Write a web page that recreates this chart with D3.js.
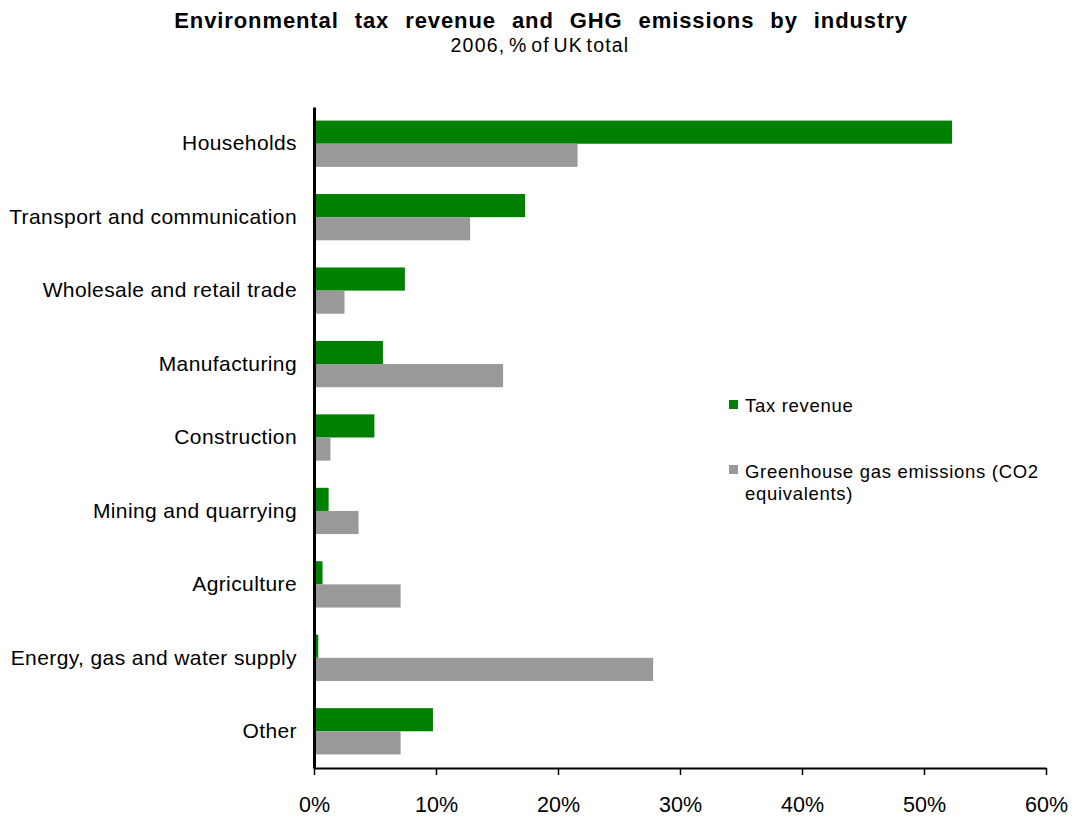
<!DOCTYPE html>
<html>
<head>
<meta charset="utf-8">
<script src="https://cdn.jsdelivr.net/npm/d3@7"></script>
<style>
  body { margin: 0; background: #fff; font-family: "Liberation Sans", Arial, sans-serif; }
</style>
</head>
<body>
<svg id="chart" width="1074" height="819"></svg>
<script>
// data
const categories = ["Households", "Transport and communication", "Wholesale and retail trade",
  "Manufacturing", "Construction", "Mining and quarrying ", "Agriculture",
  "Energy, gas and water supply", "Other"];
const seriesNames = ["Tax revenue", "Greenhouse gas emissions (CO2 equivalents)"];
const taxRevenue = [52.3, 17.3, 7.45, 5.65, 4.95, 1.2, 0.7, 0.35, 9.75];
const ghgEmissions = [21.6, 12.8, 2.5, 15.5, 1.35, 3.65, 7.1, 27.8, 7.1];
const xTicks = [0, 10, 20, 30, 40, 50, 60];
const colors = ["#008000", "#999999"];

const svg = d3.select("#chart");
const margin = { top: 107, right: 28, bottom: 51, left: 314 };
const width = 1074 - margin.left - margin.right;
const height = 819 - margin.top - margin.bottom;

const chart = svg.append("g")
  .attr("transform", `translate(${margin.left},${margin.top})`);

// scales
const x = d3.scaleLinear().domain([0, 60]).range([0, width]);
const y = d3.scaleBand().domain(categories).range([0, height]).paddingInner(0.37).paddingOuter(0.185);
const ySub = d3.scaleBand().domain([0, 1]).range([0, y.bandwidth()]);

const rows = categories.map((c, i) => ({ cat: c, values: [taxRevenue[i], ghgEmissions[i]] }));

// bars
const groups = chart.selectAll(".row")
  .data(rows)
  .enter()
  .append("g")
  .attr("transform", d => `translate(0,${y(d.cat)})`);

groups.selectAll("rect")
  .data(d => d.values.map((v, k) => ({ v, k })))
  .enter()
  .append("rect")
  .attr("x", 0)
  .attr("y", d => ySub(d.k))
  .attr("width", d => x(d.v))
  .attr("height", ySub.bandwidth())
  .attr("fill", d => colors[d.k]);

// x axis
const xAxis = chart.append("g")
  .attr("transform", `translate(0,${height})`)
  .call(d3.axisBottom(x).tickValues(xTicks).tickFormat(d => d + "%").tickSize(7).tickSizeOuter(0));
xAxis.select(".domain").attr("stroke", "#000").attr("stroke-width", 2);
xAxis.selectAll(".tick line").attr("stroke", "#000").attr("stroke-width", 1.5);
xAxis.selectAll(".tick text")
  .attr("y", 29)
  .style("font-family", "Liberation Sans, Arial, sans-serif")
  .style("font-size", "21.5px")
  .attr("fill", "#000");

// y axis
const yAxis = chart.append("g")
  .call(d3.axisLeft(y).tickSize(0).tickPadding(17));
yAxis.select(".domain").attr("stroke", "#000").attr("stroke-width", 3);
yAxis.selectAll(".tick text")
  .style("font-family", "Liberation Sans, Arial, sans-serif")
  .style("font-size", "21px")
  .style("letter-spacing", "0.4px")
  .attr("fill", "#000");

// title
svg.append("text")
  .attr("x", 541)
  .attr("y", 28)
  .attr("text-anchor", "middle")
  .style("font-size", "22px")
  .style("font-weight", "bold")
  .style("word-spacing", "9px")
  .style("letter-spacing", "0.9px")
  .text("Environmental tax revenue and GHG emissions by industry");

svg.append("text")
  .attr("x", 540)
  .attr("y", 52)
  .attr("text-anchor", "middle")
  .style("font-size", "19.5px")
  .style("word-spacing", "-3px")
  .style("letter-spacing", "1.2px")
  .text("2006, % of UK total");

// legend
const legend = svg.append("g").attr("transform", "translate(729,0)")
  .style("font-size", "18.5px")
  .style("letter-spacing", "0.7px");
legend.append("rect").attr("x", 0).attr("y", 400).attr("width", 9).attr("height", 9).attr("fill", colors[0]);
legend.append("text").attr("x", 16).attr("y", 412).text(seriesNames[0]);
legend.append("rect").attr("x", 0).attr("y", 465).attr("width", 9).attr("height", 9).attr("fill", colors[1]);
legend.append("text").attr("x", 16).attr("y", 478).text("Greenhouse gas emissions (CO2");
legend.append("text").attr("x", 16).attr("y", 500).text("equivalents)");
</script>
</body>
</html>
